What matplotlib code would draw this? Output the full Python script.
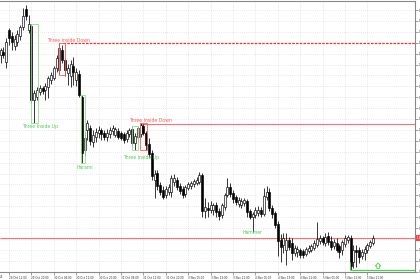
import numpy as np
import matplotlib.pyplot as plt
from matplotlib.patches import Rectangle, Polygon
import matplotlib.transforms as mtransforms

# hourly bars, index 0 = 29 Oct 12:00
bar_start = -3
opens = [1.2745, 1.2748, 1.2738, 1.2770, 1.2764, 1.2754, 1.2758, 1.2764, 1.2773, 1.2791,
         1.2770, 1.2774, 1.2700, 1.2703, 1.2708, 1.2712, 1.2710, 1.2713, 1.2720, 1.2722,
         1.2732, 1.2730, 1.2750, 1.2740, 1.2727, 1.2724, 1.2734, 1.2720, 1.2726, 1.2703,
         1.2650, 1.2670, 1.2672, 1.2658, 1.2663, 1.2667, 1.2670, 1.2667, 1.2663, 1.2666,
         1.2669, 1.2665, 1.2669, 1.2667, 1.2666, 1.2661, 1.2666, 1.2671, 1.2657, 1.2663,
         1.2666, 1.2674, 1.2667, 1.2656, 1.2647, 1.2620, 1.2627, 1.2615, 1.2610, 1.2605,
         1.2608, 1.2608, 1.2618, 1.2620, 1.2614, 1.2611, 1.2606, 1.2612, 1.2614, 1.2616,
         1.2617, 1.2618, 1.2625, 1.2589, 1.2592, 1.2590, 1.2590, 1.2595, 1.2589, 1.2585,
         1.2593, 1.2605, 1.2613, 1.2607, 1.2603, 1.2596, 1.2595, 1.2597, 1.2599, 1.2589,
         1.2583, 1.2585, 1.2587, 1.2590, 1.2586, 1.2603, 1.2608, 1.2592, 1.2587, 1.2576,
         1.2560, 1.2555, 1.2550, 1.2560, 1.2557, 1.2547, 1.2548, 1.2550, 1.2549, 1.2546,
         1.2549, 1.2550, 1.2552, 1.2555, 1.2559, 1.2562, 1.2557, 1.2564, 1.2559, 1.2554,
         1.2557, 1.2554, 1.2550, 1.2556, 1.2560, 1.2562, 1.2538, 1.2550, 1.2550, 1.2544,
         1.2547, 1.2550, 1.2554, 1.2557]
highs = [1.2752, 1.2753, 1.2762, 1.2772, 1.2768, 1.2765, 1.2770, 1.2775, 1.2792, 1.2795,
         1.2785, 1.2776, 1.2710, 1.2713, 1.2715, 1.2714, 1.2717, 1.2724, 1.2728, 1.2734,
         1.2745, 1.2757, 1.2755, 1.2742, 1.2736, 1.2740, 1.2743, 1.2732, 1.2730, 1.2705,
         1.2668, 1.2680, 1.2675, 1.2670, 1.2672, 1.2674, 1.2672, 1.2670, 1.2671, 1.2673,
         1.2675, 1.2673, 1.2672, 1.2669, 1.2668, 1.2670, 1.2672, 1.2674, 1.2667, 1.2674,
         1.2677, 1.2676, 1.2669, 1.2662, 1.2650, 1.2630, 1.2630, 1.2618, 1.2614, 1.2614,
         1.2616, 1.2625, 1.2626, 1.2623, 1.2617, 1.2614, 1.2615, 1.2618, 1.2619, 1.2621,
         1.2623, 1.2628, 1.2627, 1.2602, 1.2598, 1.2599, 1.2597, 1.2598, 1.2592, 1.2597,
         1.2607, 1.2622, 1.2617, 1.2610, 1.2605, 1.2603, 1.2602, 1.2602, 1.2601, 1.2591,
         1.2588, 1.2593, 1.2594, 1.2593, 1.2612, 1.2614, 1.2612, 1.2595, 1.2589, 1.2579,
         1.2566, 1.2567, 1.2567, 1.2563, 1.2562, 1.2555, 1.2554, 1.2552, 1.2551, 1.2553,
         1.2555, 1.2556, 1.2560, 1.2578, 1.2565, 1.2564, 1.2567, 1.2568, 1.2564, 1.2561,
         1.2562, 1.2556, 1.2560, 1.2565, 1.2565, 1.2565, 1.2555, 1.2555, 1.2553, 1.2551,
         1.2554, 1.2557, 1.2560, 1.2565]
lows = [1.2737, 1.2742, 1.2732, 1.2755, 1.2750, 1.2750, 1.2754, 1.2760, 1.2770, 1.2780,
        1.2767, 1.2697, 1.2677, 1.2700, 1.2705, 1.2706, 1.2700, 1.2702, 1.2716, 1.2720,
        1.2728, 1.2726, 1.2737, 1.2724, 1.2715, 1.2713, 1.2715, 1.2714, 1.2703, 1.2637,
        1.2645, 1.2660, 1.2655, 1.2653, 1.2658, 1.2662, 1.2660, 1.2660, 1.2659, 1.2662,
        1.2665, 1.2663, 1.2661, 1.2660, 1.2657, 1.2658, 1.2663, 1.2654, 1.2650, 1.2660,
        1.2663, 1.2665, 1.2650, 1.2643, 1.2620, 1.2602, 1.2610, 1.2605, 1.2601, 1.2602,
        1.2605, 1.2603, 1.2614, 1.2610, 1.2606, 1.2602, 1.2603, 1.2610, 1.2611, 1.2613,
        1.2615, 1.2616, 1.2583, 1.2582, 1.2583, 1.2587, 1.2585, 1.2583, 1.2580, 1.2582,
        1.2590, 1.2603, 1.2603, 1.2597, 1.2595, 1.2593, 1.2592, 1.2594, 1.2583, 1.2581,
        1.2568, 1.2582, 1.2584, 1.2583, 1.2584, 1.2600, 1.2589, 1.2582, 1.2572, 1.2544,
        1.2538, 1.2547, 1.2535, 1.2550, 1.2540, 1.2544, 1.2543, 1.2542, 1.2542, 1.2544,
        1.2547, 1.2548, 1.2550, 1.2553, 1.2556, 1.2555, 1.2554, 1.2555, 1.2550, 1.2551,
        1.2548, 1.2542, 1.2545, 1.2553, 1.2557, 1.2530, 1.2532, 1.2533, 1.2537, 1.2541,
        1.2540, 1.2547, 1.2552, 1.2555]
closes = [1.2750, 1.2745, 1.2758, 1.2762, 1.2758, 1.2761, 1.2766, 1.2773, 1.2784, 1.2784,
          1.2776, 1.2700, 1.2707, 1.2710, 1.2712, 1.2709, 1.2714, 1.2722, 1.2725, 1.2732,
          1.2742, 1.2752, 1.2740, 1.2730, 1.2732, 1.2736, 1.2728, 1.2728, 1.2705, 1.2647,
          1.2662, 1.2677, 1.2659, 1.2665, 1.2668, 1.2670, 1.2666, 1.2663, 1.2667, 1.2670,
          1.2672, 1.2671, 1.2663, 1.2662, 1.2660, 1.2667, 1.2670, 1.2657, 1.2664, 1.2672,
          1.2675, 1.2667, 1.2655, 1.2646, 1.2624, 1.2626, 1.2614, 1.2608, 1.2603, 1.2611,
          1.2613, 1.2622, 1.2622, 1.2613, 1.2609, 1.2605, 1.2613, 1.2616, 1.2617, 1.2619,
          1.2620, 1.2625, 1.2589, 1.2593, 1.2590, 1.2595, 1.2595, 1.2588, 1.2584, 1.2595,
          1.2605, 1.2613, 1.2606, 1.2601, 1.2598, 1.2600, 1.2599, 1.2600, 1.2588, 1.2583,
          1.2586, 1.2590, 1.2590, 1.2586, 1.2604, 1.2608, 1.2592, 1.2586, 1.2575, 1.2559,
          1.2553, 1.2562, 1.2560, 1.2553, 1.2547, 1.2552, 1.2551, 1.2545, 1.2545, 1.2551,
          1.2552, 1.2554, 1.2557, 1.2561, 1.2562, 1.2558, 1.2563, 1.2558, 1.2553, 1.2558,
          1.2550, 1.2548, 1.2558, 1.2562, 1.2563, 1.2534, 1.2550, 1.2548, 1.2543, 1.2548,
          1.2551, 1.2555, 1.2558, 1.2562]

time_labels = ['29 Oct 12:00', '29 Oct 20:00', '30 Oct 04:00', '30 Oct 12:00', '30 Oct 20:00',
               '31 Oct 04:00', '31 Oct 12:00', '31 Oct 20:00', '3 Nov 05:00', '3 Nov 13:00',
               '3 Nov 21:00', '4 Nov 05:00', '4 Nov 13:00', '4 Nov 21:00', '5 Nov 05:00',
               '5 Nov 13:00', '5 Nov 21:00']
label_step = 8

# candle patterns: name, first bar, last bar, top, bottom, text x, text y
pat_names = ['Three Inside Up', 'Three Inside Down', 'Harami', 'Three Inside Up', 'Three Inside Down']
pat_bull = [True, False, True, True, False]
pat_x0 = [7.8, 17.8, 25.7, 43.9, 46.8]
pat_x1 = [10.4, 20.0, 27.1, 46.1, 49.3]
pat_top = [1.2776, 1.2757, 1.2705, 1.2674, 1.2677]
pat_bot = [1.2677, 1.2725, 1.2637, 1.2650, 1.2650]
pat_tx = [11.1, 21.4, 27.1, 47.1, 50.4]
pat_ty = [1.2673, 1.2759, 1.2632, 1.2643, 1.2679]

level_dotted = 1.2757
level_mid = 1.2676
level_low = 1.2562
hammer_x, hammer_y = 87.1, 1.2567
signal_x, signal_y = 131.8, 1.2530

red = '#ff5a5a'
green = '#4fcf4f'
green_box = '#8fe08f'

fig = plt.figure(figsize=(4.2, 2.8), dpi=100)
ax = fig.add_axes([0, 8 / 280, 415 / 420, 271 / 280])

x = np.arange(len(opens)) + bar_start
o = np.array(opens)
h = np.array(highs)
l = np.array(lows)
c = np.array(closes)
up = c >= o

ax.vlines(x, l, h, color='black', linewidth=0.55, zorder=3)
body = np.maximum(np.abs(c - o), 0.00005)
ax.bar(x[up], body[up], bottom=np.minimum(o, c)[up], width=0.75,
       color='white', edgecolor='black', linewidth=0.45, zorder=4)
ax.bar(x[~up], body[~up], bottom=np.minimum(o, c)[~up], width=0.75,
       color='black', edgecolor='black', linewidth=0.45, zorder=4)

xmax = 145.0
ax.set_xlim(-3.21, xmax)
ax.set_ylim(1.2528, 1.2799)

# pattern boxes and names
for i in range(len(pat_names)):
    col = green_box if pat_bull[i] else red
    tcol = green if pat_bull[i] else red
    ax.add_patch(Rectangle((pat_x0[i], pat_bot[i]), pat_x1[i] - pat_x0[i],
                           pat_top[i] - pat_bot[i], fill=False, edgecolor=col,
                           linewidth=0.6, zorder=5))
    ax.text(pat_tx[i], pat_ty[i], pat_names[i], color=tcol, fontsize=3.3,
            ha='center', va='center', zorder=6)

ax.text(hammer_x, hammer_y, 'Hammer', color=green, fontsize=3.3, ha='center', va='center')

# levels
ax.hlines(level_dotted, 19.3, xmax, color='#ff2a2a', linewidth=0.9, linestyles=(0, (2.0, 1.0)), zorder=2)
ax.hlines(level_mid, 46.8, xmax, color='#ff7070', linewidth=0.8, zorder=2)
ax.hlines(level_low, -3.21, xmax, color='#ff7070', linewidth=0.8, zorder=2)
ax.vlines(121.8, signal_y, signal_y + 0.0008, color=green, linewidth=0.8, zorder=5)
ax.hlines(signal_y, 121.8, xmax, color=green, linewidth=0.9, zorder=5)

# hollow up arrow
ax_pts = [(signal_x - 0.45, signal_y + 0.00015), (signal_x + 0.45, signal_y + 0.00015),
          (signal_x + 0.45, signal_y + 0.00040), (signal_x + 1.0, signal_y + 0.00040),
          (signal_x, signal_y + 0.00070), (signal_x - 1.0, signal_y + 0.00040),
          (signal_x - 0.45, signal_y + 0.00040)]
ax.add_patch(Polygon(ax_pts, closed=True, fill=False, edgecolor=green, linewidth=0.6, zorder=5))

# axes styling
ax.set_xticks(np.arange(len(time_labels)) * label_step)
ax.set_xticklabels(time_labels, fontsize=2.0, ha='left', color='#333333')
ax.text(0.0, -0.012, '25', transform=ax.transAxes, fontsize=2.0, ha='left', va='top',
        color='#333333')
yt = 1.2790 - 0.00109 * np.arange(25)
ax.yaxis.tick_right()
ax.set_yticks(yt)
ylabels = ['%.5f' % v for v in yt]
ylabels[21] = ''
ax.set_yticklabels(ylabels, fontsize=2.0, color='#333333')
ax.tick_params(axis='both', length=2.0, width=0.5, color='#777777', pad=0.8)
ax.grid(True, color='#d4d4d4', linestyle=(0, (1, 2)), linewidth=0.5)
ax.set_axisbelow(True)
for s in ['top', 'right', 'bottom']:
    ax.spines[s].set_color('#888888')
    ax.spines[s].set_linewidth(0.8)
ax.spines['left'].set_visible(False)

trans = mtransforms.blended_transform_factory(ax.transAxes, ax.transData)
ax.text(1.004, level_low, '1.25620', transform=trans, fontsize=2.0, color='white',
        va='center', ha='left', bbox=dict(fc='#ff4040', ec='none', pad=0.6))

fig.savefig('out.png', dpi=100)
